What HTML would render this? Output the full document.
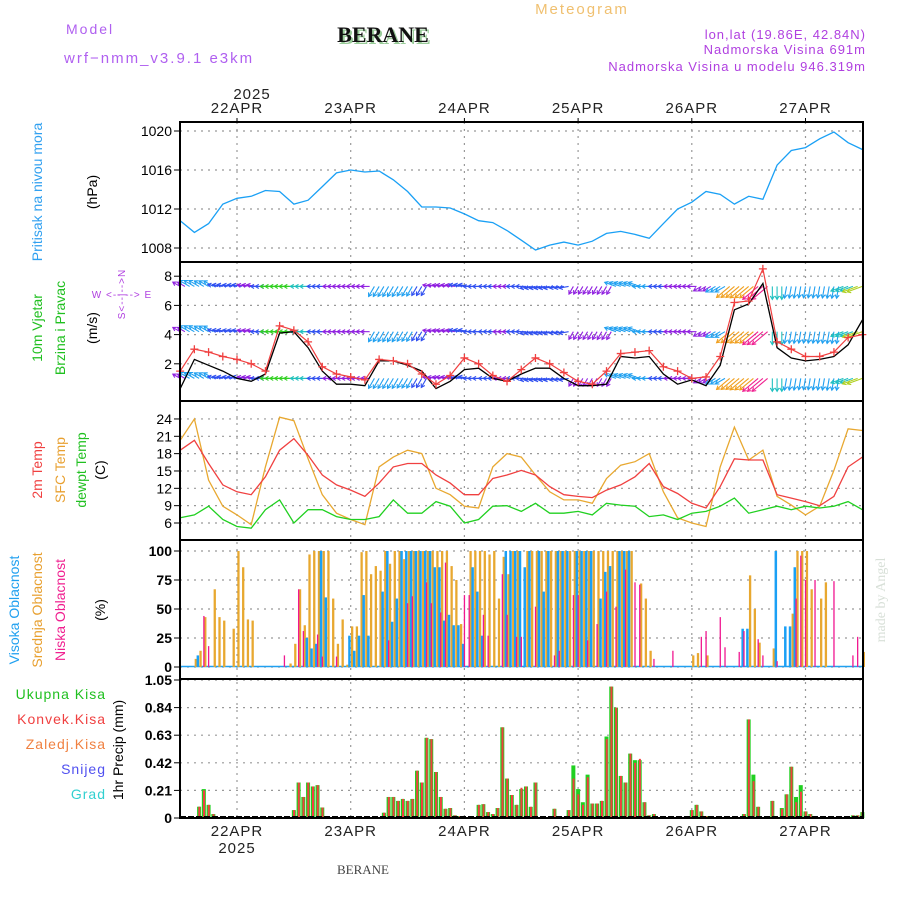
<!DOCTYPE html>
<html><head><meta charset="utf-8"><style>
html,body{margin:0;padding:0;background:#fff;}
svg{display:block;}
text{font-family:"Liberation Sans",sans-serif;}
</style></head><body>
<svg id="chart" width="900" height="900" viewBox="0 0 900 900" xmlns="http://www.w3.org/2000/svg">
<rect x="0" y="0" width="900" height="900" fill="#fff"/>
<text x="66" y="34" font-size="14" fill="#b060f0" letter-spacing="2">Model</text>
<text x="64" y="63" font-size="15" fill="#b060f0" letter-spacing="2">wrf−nmm_v3.9.1 e3km</text>
<text x="385" y="44" font-size="22" font-weight="bold" text-anchor="middle" fill="#9c9" style="font-family:'Liberation Serif',serif">BERANE</text>
<text x="383" y="42" font-size="22" font-weight="bold" text-anchor="middle" fill="#111" style="font-family:'Liberation Serif',serif">BERANE</text>
<text x="582" y="14" font-size="15" fill="#f0c070" text-anchor="middle" letter-spacing="2">Meteogram</text>
<text x="866" y="39" font-size="13" fill="#b040e0" text-anchor="end" letter-spacing="1">lon,lat (19.86E, 42.84N)</text>
<text x="866" y="54" font-size="13" fill="#b040e0" text-anchor="end" letter-spacing="1">Nadmorska Visina 691m</text>
<text x="866" y="71" font-size="13" fill="#b040e0" text-anchor="end" letter-spacing="1">Nadmorska Visina u modelu 946.319m</text>

<g>
<text transform="translate(42,192) rotate(-90)" font-size="14" fill="#30a0f0" text-anchor="middle">Pritisak na nivou mora</text>
<text transform="translate(97,192) rotate(-90)" font-size="14" fill="#000" text-anchor="middle">(hPa)</text>
<text transform="translate(42,328) rotate(-90)" font-size="14" fill="#20c020" text-anchor="middle">10m Vjetar</text>
<text transform="translate(65,328) rotate(-90)" font-size="14" fill="#20c020" text-anchor="middle">Brzina i Pravac</text>
<text transform="translate(97,328) rotate(-90)" font-size="14" fill="#000" text-anchor="middle">(m/s)</text>
<text transform="translate(125,294) rotate(-90)" font-size="10" fill="#b040e0" text-anchor="middle" letter-spacing="1">S&lt;--|--&gt;N</text>
<text x="122" y="298" font-size="10" fill="#b040e0" text-anchor="middle" letter-spacing="1">W &lt;--   --&gt; E</text>
<text transform="translate(42,470) rotate(-90)" font-size="14" fill="#f04040" text-anchor="middle">2m Temp</text>
<text transform="translate(65,470) rotate(-90)" font-size="14" fill="#e8a030" text-anchor="middle">SFC Temp</text>
<text transform="translate(86,470) rotate(-90)" font-size="14" fill="#20c020" text-anchor="middle">dewpt Temp</text>
<text transform="translate(105,470) rotate(-90)" font-size="14" fill="#000" text-anchor="middle">(C)</text>
<text transform="translate(19,610) rotate(-90)" font-size="14" fill="#20a0f0" text-anchor="middle">Visoka Oblacnost</text>
<text transform="translate(42,610) rotate(-90)" font-size="14" fill="#e8a030" text-anchor="middle">Srednja Oblacnost</text>
<text transform="translate(65,610) rotate(-90)" font-size="14" fill="#f02090" text-anchor="middle">Niska Oblacnost</text>
<text transform="translate(105,610) rotate(-90)" font-size="14" fill="#000" text-anchor="middle">(%)</text>
<text x="106" y="699" font-size="14" fill="#20c020" text-anchor="end" letter-spacing="1">Ukupna Kisa</text>
<text x="106" y="724" font-size="14" fill="#f04040" text-anchor="end" letter-spacing="1">Konvek.Kisa</text>
<text x="106" y="749" font-size="14" fill="#f08040" text-anchor="end" letter-spacing="1">Zaledj.Kisa</text>
<text x="106" y="774" font-size="14" fill="#5050f0" text-anchor="end" letter-spacing="1">Snijeg</text>
<text x="106" y="799" font-size="14" fill="#30d0d0" text-anchor="end" letter-spacing="1">Grad</text>
<text transform="translate(123,750) rotate(-90)" font-size="14" fill="#000" text-anchor="middle">1hr Precip (mm)</text>
</g>
<text transform="translate(885,600) rotate(-90)" font-size="14" fill="#d8e0d8" text-anchor="middle" style="font-family:'Liberation Serif',serif">made by Angel</text>
<text x="363" y="874" font-size="13" fill="#444" text-anchor="middle" style="font-family:'Liberation Serif',serif">BERANE</text>
<g id="plot"></g>
</svg>
<script>
// ---- data (hours relative to 22APR 00UTC) ----
const dayLabels = ["22APR","23APR","24APR","25APR","26APR","27APR"];
const dayHours = [0,24,48,72,96,120];
const hours3 = [-12,-9,-6,-3,0,3,6,9,12,15,18,21,24,27,30,33,36,39,42,45,48,51,54,57,60,63,66,69,72,75,78,81,84,87,90,93,96,99,102,105,108,111,114,117,120,123,126,129,132];
const pressure = [1010.8,1009.6,1010.5,1012.5,1013.1,1013.3,1013.9,1013.8,1012.5,1012.9,1014.3,1015.7,1016,1015.8,1015.9,1015,1013.8,1012.2,1012.2,1012.1,1011.5,1010.8,1010.6,1009.8,1008.8,1007.8,1008.3,1008.6,1008.3,1008.7,1009.5,1009.7,1009.4,1009.0,1010.5,1012,1012.7,1013.8,1013.5,1012.5,1013.3,1013.0,1016.5,1018,1018.3,1019.2,1019.9,1018.8,1018.1];
const windSpeed = [0.3,2.3,1.9,1.5,1.0,0.8,1.3,4.1,4.2,3.1,1.5,0.6,0.6,0.5,2.2,2.2,1.9,1.5,0.3,0.8,1.6,1.7,1.0,0.8,1.3,1.7,1.7,1.0,0.5,0.5,0.6,2.5,2.4,2.5,1.3,0.6,0.9,0.5,1.9,5.7,6.1,7.5,3.1,2.4,2.2,2.3,2.5,3.3,5.0];
const windGust = [1.5,3.0,2.8,2.5,2.3,2.0,1.5,4.6,4.3,3.5,1.8,1.3,1.1,0.9,2.3,2.2,2.0,1.3,0.6,1.2,2.4,2.0,1.2,0.8,1.6,2.4,2.0,1.4,0.8,0.6,1.5,2.7,2.8,2.9,1.8,1.5,1.0,1.1,2.5,6.2,6.3,8.5,3.5,3.0,2.5,2.5,2.8,3.8,4.0];
const windDir = [150,150,150,170,170,170,180,180,180,180,180,180,180,180,240,240,240,240,170,170,170,180,180,180,180,190,190,190,240,240,240,160,160,180,180,180,180,210,210,220,220,220,270,260,260,260,260,200,200];
const temp2m = [18.6,20.3,16.3,12.6,11.4,10.9,14,18.6,20.6,17.7,14.3,12.6,11.7,10.6,12.9,15.7,16.3,16.3,14.3,12.9,10.9,10.9,13.7,14.3,15.1,14.3,12.3,10.9,10.6,10.4,11.7,12.6,14,16.3,12.3,11.1,9.4,8.6,12.3,17.1,16.9,16.9,10.9,10.3,9.7,9,10.6,15.7,17.4];
const tempSfc = [20.3,24,13.4,8.9,7.4,5.7,15.7,24.3,23.7,17.1,10.9,7.7,6.6,5.7,15.7,17.4,18.6,18,12,10.9,8.9,8.6,15.7,18,17.4,14.3,11.4,10,10,9.4,13.7,16,16.6,18,11.4,6.9,6,5.4,15.7,22.6,16.9,18.6,10.6,9.1,7.4,8.9,15.1,22.3,22];
const dewpt = [6.9,7.4,8.9,6.6,5.4,5.1,8.3,10,6,8.3,8.3,7.1,6.6,6.6,7.1,10,7.7,7.7,9.7,8.9,6,6.6,8.9,9,8,9.4,7.7,7.7,8,7.4,9.4,9.1,8.9,7.1,7.4,6.6,7.7,8,8.9,10.3,7.7,8.3,8.9,8.3,8.9,8.6,8.9,9.7,8.3];
const cloudHours = [-9,-8,-7,-6,-5,-4,-3,-1,0,1,2,3,10,11,12,13,14,15,16,17,18,19,20,21,22,23,24,25,26,27,28,29,30,31,32,33,34,35,36,37,38,39,40,41,42,43,44,45,46,47,48,49,50,51,52,53,54,55,56,57,58,59,60,61,62,63,64,65,66,67,68,69,70,71,72,73,74,75,76,77,78,79,80,81,82,83,84,85,86,87,88,92,96,97,98,99,102,103,106,107,108,109,110,111,113,114,116,117,118,119,120,121,122,123,124,126,130,131,132];
const highCloud = [0,10,0,0,0,0,0,0,0,0,0,0,0,0,0,0,0,25,16,20,100,60,0,0,0,0,27,14,27,62,27,0,0,65,100,39,59,100,100,100,100,100,100,100,86,86,40,45,36,36,20,0,86,65,27,0,0,0,0,100,100,100,100,86,100,0,100,65,100,0,100,100,100,0,100,100,100,100,0,59,82,87,0,100,100,100,0,0,0,0,0,0,0,0,0,0,0,0,0,33,33,0,0,0,0,100,35,35,86,0,0,0,0,0,0,0,0,0,0];
const midCloud = [7,14,43,0,67,43,40,33,100,86,41,40,0,3,20,67,36,97,100,100,100,100,59,20,41,2,35,35,99,100,80,87,83,100,89,100,100,93,100,100,100,100,100,100,100,100,100,87,75,37,0,100,100,100,100,97,100,59,95,80,100,100,0,100,100,100,100,100,100,100,100,100,100,100,100,100,100,100,100,100,100,100,100,100,100,100,0,72,59,14,0,0,10,12,0,10,0,0,0,0,79,50,21,0,16,0,0,46,100,100,100,67,0,59,73,0,0,0,13];
const lowCloud = [0,0,44,18,0,0,0,0,0,0,0,0,10,0,0,67,31,0,0,28,9,0,0,9,0,0,0,0,0,0,0,0,0,0,23,0,0,0,55,61,0,0,73,55,0,47,90,0,0,0,62,62,0,0,45,27,0,0,80,45,0,26,26,0,0,52,0,0,0,10,14,0,0,62,62,0,23,0,37,0,65,0,52,0,84,0,73,71,0,0,7,14,0,0,26,31,43,17,13,31,0,0,24,10,0,5,0,0,59,96,75,0,75,0,0,74,10,26,0];
const precipHours = [-8,-7,-6,-5,12,13,14,15,16,17,18,31,32,33,34,35,36,37,38,39,40,41,42,43,44,45,46,47,51,52,53,54,55,56,57,58,59,60,61,62,63,67,68,70,71,72,73,74,75,76,77,78,79,80,81,82,83,84,85,86,87,88,96,97,98,99,107,108,109,110,113,115,116,117,118,119,120,121,130,131,132];
const precipTotal = [0.086,0.22,0.10,0.03,0.06,0.27,0.16,0.27,0.24,0.25,0.08,0.04,0.16,0.16,0.13,0.145,0.13,0.145,0.36,0.27,0.61,0.60,0.35,0.16,0.07,0.076,0.02,0.015,0.10,0.105,0.045,0.03,0.076,0.69,0.30,0.175,0.10,0.22,0.24,0.085,0.27,0.07,0.015,0.06,0.40,0.22,0.12,0.33,0.11,0.11,0.13,0.62,1.0,0.84,0.32,0.27,0.49,0.44,0.44,0.12,0.02,0.03,0.06,0.10,0.05,0.015,0.03,0.75,0.33,0.085,0.13,0.076,0.18,0.39,0.16,0.25,0.05,0.03,0.02,0.02,0.045];
const precipConv = [0.086,0.21,0.10,0.03,0.06,0.27,0.16,0.27,0.24,0.25,0.08,0.04,0.16,0.16,0.13,0.145,0.13,0.145,0.36,0.27,0.61,0.60,0.35,0.16,0.07,0.076,0.02,0.015,0.10,0.105,0.045,0.03,0.076,0.69,0.30,0.175,0.10,0.23,0.24,0.085,0.27,0.07,0.015,0.06,0.30,0.18,0.10,0.31,0.11,0.11,0.13,0.60,1.0,0.84,0.32,0.27,0.49,0.42,0.45,0.12,0.02,0.03,0.06,0.10,0.05,0.015,0.03,0.75,0.28,0.085,0.13,0.07,0.18,0.39,0.12,0.20,0.05,0.03,0.02,0.02,0.045];
const pTicks = [1020,1016,1012,1008];
const wTicks = [8,6,4,2];
const tTicks = [24,21,18,15,12,9,6];
const cTicks = [100,75,50,25,0];
const rTicks = ["1.05","0.84","0.63","0.42","0.21","0"];

// ---- scales ----
const L=180, R=863;
const xT = h => 237 + h*113.7/24;
const yP = p => 131 + (1020-p)*9.75;
const yW = s => 393 - s*14.6;
const yT = t => 523 - (t-6)*5.78;
const yC = c => 667 - c*1.16;
const yR = r => 818 - r*131.43;
const panels = [[122,262],[262,401],[401,540],[540,679],[679,818]];

const NS="http://www.w3.org/2000/svg";
const plot=document.getElementById('plot');
function mk(tag, attrs, parent){const e=document.createElementNS(NS,tag);for(const k in attrs)e.setAttribute(k,attrs[k]);(parent||plot).appendChild(e);return e;}
function txt(s, attrs){const e=mk('text',attrs);e.textContent=s;return e;}

// grids
const grid=mk('g',{});


dayHours.forEach(h=>{mk('line',{x1:xT(h),x2:xT(h),y1:122,y2:818,stroke:'#999','stroke-width':1.2,'stroke-dasharray':'2,5'},grid);});
function hgrid(vals, fy, labels, fmt){
  vals.forEach((v,i)=>{
    const y=fy(v);
    mk('line',{x1:L,x2:R,y1:y,y2:y,stroke:'#999','stroke-width':1.2,'stroke-dasharray':'2,5'},grid);
    mk('line',{x1:L-6,x2:L,y1:y,y2:y,stroke:'#000','stroke-width':1},grid);
    const t=txt(labels?labels[i]:String(v),{x:L-8,y:y+5,'font-size':14,'text-anchor':'end',fill:'#000','font-weight':fmt||'normal'});
    
    
  });
}
hgrid(pTicks,yP);
hgrid(wTicks,yW);
hgrid(tTicks,yT);
hgrid(cTicks,yC,null,'bold');
hgrid(rTicks.map(Number),yR,rTicks,'bold');

// time labels
dayLabels.forEach((d,i)=>{
  const x=xT(dayHours[i]);
  const a=txt(d,{x:x,y:113,'font-size':15,'text-anchor':'middle',fill:'#222','letter-spacing':'1'});
  
  
  const b=txt(d,{x:x,y:836,'font-size':15,'text-anchor':'middle',fill:'#222','letter-spacing':'1'});
  
  
  mk('line',{x1:x,x2:x,y1:118,y2:122,stroke:'#000'});
});
const y1=txt('2025',{x:xT(0)+15,y:99,'font-size':15,'text-anchor':'middle',fill:'#222','letter-spacing':'1'});


const y2=txt('2025',{x:xT(0),y:853,'font-size':15,'text-anchor':'middle',fill:'#222','letter-spacing':'1'});



function line(xs, ys, color, name, w){
  const d=xs.map((h,i)=>(i?'L':'M')+xT(h).toFixed(1)+','+ys[i].toFixed(1)).join('');
  const p=mk('path',{d:d,fill:'none',stroke:color,'stroke-width':w||1.3});
  
  
  return p;
}
// pressure
line(hours3, pressure.map(yP), '#1aa0f5', 'pressure-line');

// wind arrows
function windColor(s){
  if(s<1) return '#9020e0'; if(s<1.8) return '#3050f0'; if(s<2.6) return '#20a0f0';
  if(s<3.4) return '#20c0c0'; if(s<4.5) return '#30d020'; if(s<5.5) return '#b0d020';
  if(s<7) return '#f0a020'; return '#f02090';
}
const arrows=mk('g',{});


[7.3,4.2,1.0].forEach(lvl=>{
  const yb=yW(lvl);
  for(let h=-12;h<=132;h++){
    const i=Math.min(hours3.length-1,Math.round((h+12)/3));
    const a=windDir[i]*Math.PI/180, s=windSpeed[i];
    const len=8+Math.min(s,8)*1.6;
    const x0=xT(h), x1=x0+Math.cos(a)*len, yy=yb-Math.sin(a)*len;
    const c=windColor(s);
    mk('line',{x1:x0,y1:yb,x2:x1,y2:yy,stroke:c,'stroke-width':1.1},arrows);
    const b1=a+2.6,b2=a-2.6;
    mk('path',{d:`M${x1+Math.cos(b1)*4},${yy-Math.sin(b1)*4}L${x1},${yy}L${x1+Math.cos(b2)*4},${yy-Math.sin(b2)*4}`,fill:'none',stroke:c,'stroke-width':1.1},arrows);
  }
});
// wind speed & gust
line(hours3, windSpeed.map(yW), '#000', 'wind-speed-line', 1.3);
line(hours3, windGust.map(yW), '#f04040', 'wind-gust-line', 1.2);
hours3.forEach((h,i)=>{
  const x=xT(h), y=yW(windGust[i]);
  const m=mk('path',{d:`M${x-4},${y}L${x+4},${y}M${x},${y-4}L${x},${y+4}`,stroke:'#f04040','stroke-width':1.3});
  
  
});
// temps
line(hours3, tempSfc.map(yT), '#e8a830', 'sfc-temp-line');
line(hours3, temp2m.map(yT), '#f04040', 'temp-2m-line');
line(hours3, dewpt.map(yT), '#20d020', 'dewpt-line');

// clouds
mk('line',{x1:L,x2:R,y1:666.5,y2:666.5,stroke:'#20a0f0','stroke-width':1.5});
cloudHours.forEach((h,i)=>{
  const x=xT(h);
  if(highCloud[i]>0){const r=mk('rect',{x:x-2.5,y:yC(highCloud[i]),width:2.5,height:667-yC(highCloud[i]),fill:'#1aa0f5'});
    
    }
  if(midCloud[i]>0){const r=mk('rect',{x:x+0.3,y:yC(midCloud[i]),width:2.3,height:667-yC(midCloud[i]),fill:'#e8a830'});
    
    }
  if(lowCloud[i]>0){const r=mk('rect',{x:x-0.6,y:yC(lowCloud[i]),width:1.3,height:667-yC(lowCloud[i]),fill:'#f01890'});
    
    }
});
// precip
precipHours.forEach((h,i)=>{
  const x=xT(h);
  const g=mk('rect',{x:x-2,y:yR(precipTotal[i]),width:4,height:818-yR(precipTotal[i]),fill:'#20d020'});
  
  
  const r=mk('rect',{x:x-0.8,y:yR(precipConv[i]),width:2,height:818-yR(precipConv[i]),fill:'#f04040'});
  
  
});
mk('line',{x1:L,x2:R,y1:817,y2:817,stroke:'#000','stroke-width':2,'stroke-dasharray':'6,2'});

// panel frames
panels.forEach((p,i)=>{
  const f=mk('rect',{x:L,y:p[0],width:R-L,height:p[1]-p[0],fill:'none',stroke:'#000','stroke-width':2});
  
  
});
</script>
</body></html>
